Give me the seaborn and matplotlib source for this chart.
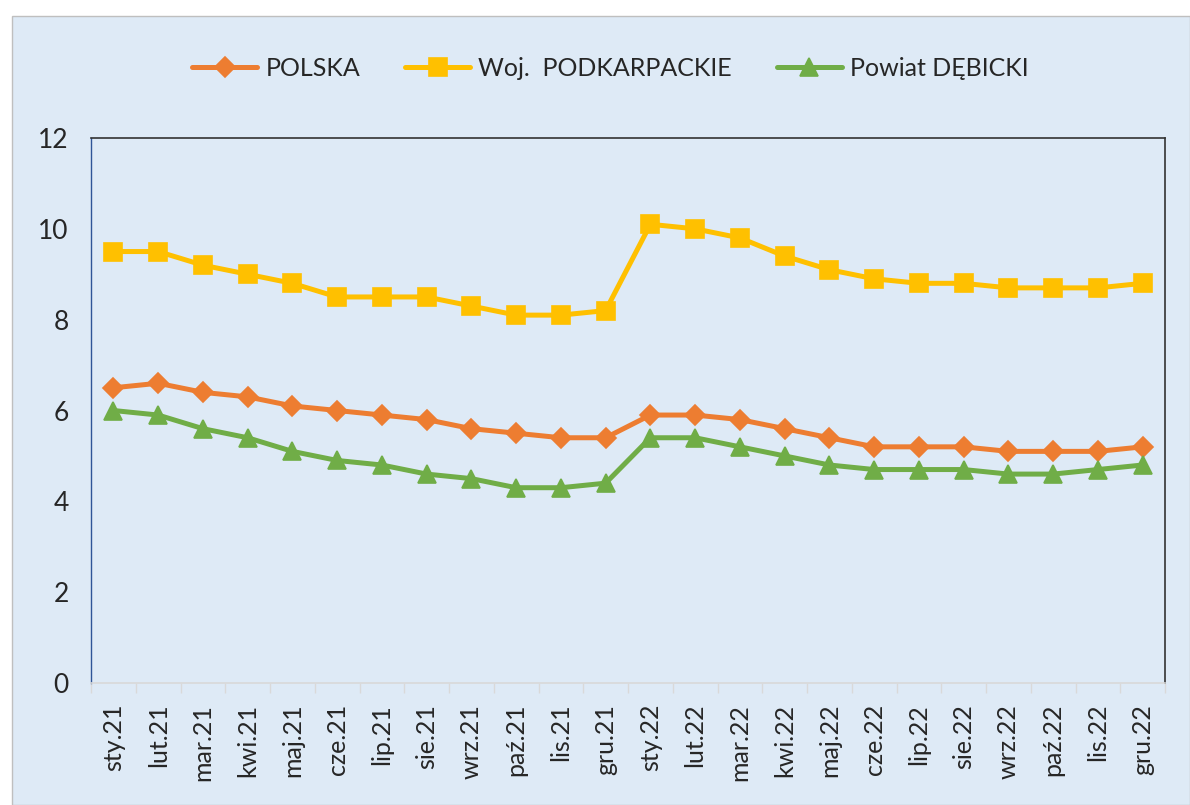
import numpy as np
import pandas as pd
import matplotlib
matplotlib.use("Agg")
import matplotlib.pyplot as plt
from matplotlib.patches import Rectangle
import seaborn as sns

months = ["sty.21", "lut.21", "mar.21", "kwi.21", "maj.21", "cze.21", "lip.21", "sie.21",
          "wrz.21", "paź.21", "lis.21", "gru.21", "sty.22", "lut.22", "mar.22", "kwi.22",
          "maj.22", "cze.22", "lip.22", "sie.22", "wrz.22", "paź.22", "lis.22", "gru.22"]
polska = [6.5, 6.6, 6.4, 6.3, 6.1, 6.0, 5.9, 5.8, 5.6, 5.5, 5.4, 5.4,
          5.9, 5.9, 5.8, 5.6, 5.4, 5.2, 5.2, 5.2, 5.1, 5.1, 5.1, 5.2]
podkarpackie = [9.5, 9.5, 9.2, 9.0, 8.8, 8.5, 8.5, 8.5, 8.3, 8.1, 8.1, 8.2,
                10.1, 10.0, 9.8, 9.4, 9.1, 8.9, 8.8, 8.8, 8.7, 8.7, 8.7, 8.8]
debicki = [6.0, 5.9, 5.6, 5.4, 5.1, 4.9, 4.8, 4.6, 4.5, 4.3, 4.3, 4.4,
           5.4, 5.4, 5.2, 5.0, 4.8, 4.7, 4.7, 4.7, 4.6, 4.6, 4.7, 4.8]
series_names = ["POLSKA", "Woj.  PODKARPACKIE", "Powiat DĘBICKI"]
y_ticks = [0, 2, 4, 6, 8, 10, 12]

sns.set_theme(style="white")
plt.rcParams["font.family"] = ["Lato", "DejaVu Sans"]

bg = "#DEEAF6"
fig = plt.figure(figsize=(11.9, 8.05), dpi=100, facecolor="white")
fig.patches.append(Rectangle((12 / 1190, 0), 1 - 12 / 1190, 1 - 16 / 805,
                             transform=fig.transFigure, facecolor=bg,
                             edgecolor="#BFBFBF", linewidth=1.0, zorder=-10))
ax = fig.add_axes([91 / 1190, 1 - 683 / 805, (1165 - 91) / 1190, (683 - 138) / 805])
ax.set_facecolor(bg)

x = np.arange(len(months))
df = pd.DataFrame({
    "x": np.concatenate([x, x, x]),
    "wartość": polska + podkarpackie + debicki,
    "seria": np.repeat(series_names, len(months)),
})
palette = {series_names[0]: "#ED7D31", series_names[1]: "#FFC000", series_names[2]: "#70AD47"}
markers = {series_names[0]: "D", series_names[1]: "s", series_names[2]: "^"}
sizes_ms = {series_names[0]: 12.5, series_names[1]: 16.5, series_names[2]: 16}

for name in series_names:
    sub = df[df["seria"] == name]
    sns.lineplot(data=sub, x="x", y="wartość", ax=ax, color=palette[name],
                 marker=markers[name], markersize=sizes_ms[name],
                 markeredgewidth=1.2, markeredgecolor=palette[name],
                 linewidth=3.6, label=name, sort=False)

ax.set_xlim(-0.5, len(months) - 0.5)
ax.set_ylim(0, 12)
ax.set_yticks(y_ticks)
ax.set_yticklabels([str(v) for v in y_ticks], fontsize=19)
ax.set_xticks(x)
ax.set_xticklabels(months, rotation=90, fontsize=18)
ax.set_xticks(np.arange(-0.5, len(months) + 0.5, 1), minor=True)
ax.tick_params(axis="x", which="major", length=0, pad=15)
ax.tick_params(axis="x", which="minor", length=7, color="#D9D9D9", width=1, bottom=True)
ax.tick_params(axis="y", length=0, pad=16)
ax.set_xlabel("")
ax.set_ylabel("")

for side in ["top", "right"]:
    ax.spines[side].set_color("#333333")
    ax.spines[side].set_linewidth(1.2)
ax.spines["left"].set_color("#2F5597")
ax.spines["left"].set_linewidth(1.0)
ax.spines["bottom"].set_color("#D9D9D9")
ax.spines["bottom"].set_linewidth(1.2)

handles, labels = ax.get_legend_handles_labels()
for h in handles:
    h.set_markersize(h.get_markersize() * 0.8)
ax.get_legend().remove()
fig.legend(handles, labels, loc="center", bbox_to_anchor=(0.513, 1 - 68 / 805),
           ncol=3, frameon=False, fontsize=18, handlelength=2.6,
           columnspacing=1.8, handletextpad=0.32)

fig.savefig("out.png", dpi=100, facecolor="white")
